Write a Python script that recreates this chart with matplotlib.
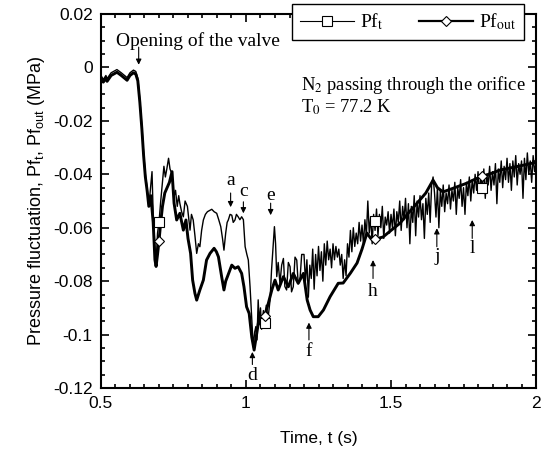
import numpy as np
import matplotlib
matplotlib.use("Agg")
import matplotlib.pyplot as plt
from matplotlib.lines import Line2D
from matplotlib.font_manager import FontProperties
from matplotlib.ticker import MultipleLocator, FuncFormatter

plt.rcParams['font.family'] = ['Liberation Sans', 'DejaVu Sans']
plt.rcParams['mathtext.fontset'] = 'custom'
plt.rcParams['mathtext.rm'] = 'Liberation Sans'
plt.rcParams['mathtext.it'] = 'Liberation Sans:italic'

# ---- Pf_t (thin, noisy) ----
t_pft_head = [0.500, 0.508, 0.517, 0.521, 0.535, 0.555, 0.570, 0.590, 0.600, 0.612,
              0.620, 0.627, 0.634, 0.641, 0.647, 0.653, 0.659, 0.665, 0.671, 0.676,
              0.680, 0.686, 0.690, 0.695, 0.700, 0.706, 0.712, 0.717, 0.722, 0.727,
              0.733, 0.738, 0.744, 0.752, 0.757, 0.763, 0.768, 0.772, 0.778, 0.784,
              0.790, 0.798, 0.803, 0.807, 0.812, 0.818, 0.824, 0.830, 0.836, 0.841,
              0.847, 0.853, 0.860, 0.867, 0.875, 0.882, 0.890, 0.899, 0.906, 0.913,
              0.919, 0.924, 0.930, 0.935, 0.939, 0.945, 0.951, 0.956, 0.962, 0.967,
              0.973, 0.979, 0.985, 0.991, 0.997, 1.003, 1.008, 1.014, 1.020,
              1.025, 1.030, 1.034, 1.038, 1.042, 1.046, 1.050, 1.054, 1.060, 1.065,
              1.070, 1.076, 1.083, 1.088, 1.093, 1.098, 1.102, 1.106, 1.111, 1.117,
              1.123, 1.129, 1.134, 1.140, 1.146, 1.152, 1.157, 1.163, 1.169, 1.175,
              1.180, 1.186, 1.192]
pft_head = [-0.003, -0.0045, -0.003, -0.0042, -0.002, -0.0008, -0.002, -0.0038, -0.002, -0.001,
            -0.0015, -0.004, -0.012, -0.022, -0.032, -0.040, -0.045, -0.052, -0.045, -0.039,
            -0.055, -0.067, -0.073, -0.062, -0.058, -0.050, -0.043, -0.037, -0.041, -0.038,
            -0.034, -0.038, -0.0397, -0.0484, -0.046, -0.052, -0.048, -0.0509, -0.054, -0.0559,
            -0.050, -0.052, -0.057, -0.0609, -0.055, -0.0571, -0.063, -0.0696, -0.066, -0.0671,
            -0.061, -0.0571, -0.055, -0.054, -0.0535, -0.0531, -0.054, -0.0546, -0.057, -0.0596,
            -0.064, -0.0684, -0.062, -0.058, -0.0571, -0.055, -0.0553, -0.058, -0.0571, -0.055,
            -0.0559, -0.057, -0.0559, -0.057, -0.0671, -0.070, -0.0721, -0.0821, -0.0946,
            -0.1046, -0.099, -0.097, -0.102, -0.087, -0.096, -0.090, -0.098, -0.091, -0.096,
            -0.089, -0.094, -0.087, -0.076, -0.068, -0.0596, -0.066, -0.0783, -0.073, -0.0808,
            -0.074, -0.0715, -0.082, -0.0833, -0.073, -0.0746, -0.084, -0.0821, -0.071, -0.0721,
            -0.081, -0.0796, -0.070]

# sampled every 5 ms from 1.20 s to 2.00 s
pft_tail = [-0.070, -0.080, -0.072, -0.086, -0.074, -0.079, -0.068, -0.083, -0.070, -0.078,
            -0.067, -0.076, -0.069, -0.080, -0.066, -0.074, -0.065, -0.072, -0.068, -0.075,
            -0.066, -0.072, -0.067, -0.071, -0.068, -0.074, -0.070, -0.079, -0.072, -0.078,
            -0.066, -0.071, -0.061, -0.069, -0.060, -0.067, -0.062, -0.066, -0.058, -0.065,
            -0.059, -0.066, -0.057, -0.063, -0.050, -0.062, -0.056, -0.066, -0.055, -0.061,
            -0.053, -0.063, -0.055, -0.060, -0.052, -0.064, -0.056, -0.059, -0.054, -0.062,
            -0.055, -0.060, -0.053, -0.063, -0.054, -0.058, -0.050, -0.061, -0.052, -0.057,
            -0.049, -0.060, -0.051, -0.066, -0.052, -0.058, -0.048, -0.063, -0.050, -0.056,
            -0.048, -0.057, -0.051, -0.064, -0.049, -0.055, -0.047, -0.058, -0.044, -0.041,
            -0.047, -0.056, -0.045, -0.060, -0.046, -0.052, -0.044, -0.054, -0.047, -0.051,
            -0.044, -0.053, -0.046, -0.050, -0.043, -0.055, -0.045, -0.049, -0.042, -0.052,
            -0.045, -0.055, -0.043, -0.048, -0.041, -0.050, -0.042, -0.047, -0.040, -0.046,
            -0.039, -0.047, -0.041, -0.045, -0.038, -0.049, -0.040, -0.044, -0.037, -0.046,
            -0.039, -0.044, -0.036, -0.051, -0.038, -0.043, -0.035, -0.045, -0.037, -0.042,
            -0.034, -0.043, -0.036, -0.046, -0.035, -0.041, -0.033, -0.044, -0.036, -0.040,
            -0.035, -0.049, -0.034, -0.042, -0.032, -0.040, -0.035, -0.043, -0.033, -0.039,
            -0.036]
t_pft_tail = 1.20 + 0.005 * np.arange(len(pft_tail))

# ---- Pf_out (thick, smoother) ----
t_pfout = [0.500, 0.508, 0.517, 0.521, 0.535, 0.555, 0.570, 0.590, 0.600, 0.612,
           0.620, 0.627, 0.634, 0.641, 0.647, 0.653, 0.659, 0.665, 0.672, 0.680,
           0.686, 0.690, 0.695, 0.700, 0.706, 0.712, 0.720, 0.728, 0.736, 0.745,
           0.752, 0.761, 0.772, 0.784, 0.793, 0.800, 0.805, 0.809, 0.816, 0.824,
           0.830, 0.836, 0.841, 0.853, 0.864, 0.876, 0.890, 0.898, 0.905, 0.916,
           0.924, 0.930, 0.936, 0.944, 0.951, 0.962, 0.973, 0.985, 0.993, 1.002,
           1.011, 1.020, 1.028, 1.037, 1.046, 1.054, 1.063, 1.077, 1.089, 1.100,
           1.111, 1.129, 1.146, 1.163, 1.180, 1.198, 1.211, 1.221, 1.232, 1.249,
           1.267, 1.290, 1.318, 1.335, 1.360, 1.383, 1.400, 1.417, 1.430, 1.445,
           1.472, 1.500, 1.531, 1.560, 1.590, 1.620, 1.645, 1.660, 1.679, 1.720,
           1.762, 1.790, 1.817, 1.850, 1.876, 1.930, 1.960, 2.000]
pfout = [-0.004, -0.0055, -0.004, -0.0052, -0.003, -0.0018, -0.003, -0.0048, -0.003, -0.002,
         -0.0025, -0.005, -0.013, -0.023, -0.033, -0.041, -0.046, -0.052, -0.048, -0.058,
         -0.072, -0.0745, -0.070, -0.065, -0.058, -0.052, -0.047, -0.045, -0.043, -0.039,
         -0.0508, -0.0571, -0.0546, -0.0609, -0.0571, -0.064, -0.0671, -0.0696, -0.0796, -0.0846,
         -0.0871, -0.085, -0.0833, -0.0796, -0.0721, -0.0696, -0.0677, -0.069, -0.0709, -0.0783,
         -0.0833, -0.080, -0.0783, -0.076, -0.074, -0.0752, -0.0746, -0.0771, -0.0821, -0.0896,
         -0.0921, -0.101, -0.1058, -0.0996, -0.0933, -0.0971, -0.0933, -0.0883, -0.0833, -0.0796,
         -0.0833, -0.0783, -0.0821, -0.0771, -0.0808, -0.0771, -0.0871, -0.0908, -0.0933, -0.0933,
         -0.0908, -0.0858, -0.0808, -0.0807, -0.0770, -0.0732, -0.0680, -0.0620, -0.0640, -0.0642,
         -0.0635, -0.0610, -0.0583, -0.0545, -0.0508, -0.0470, -0.0422, -0.0450, -0.0466, -0.0450,
         -0.0433, -0.0418, -0.0407, -0.0395, -0.0384, -0.0372, -0.0365, -0.0355]

# marker positions
t_marks = [0.700, 1.066, 1.445, 1.815]
pft_marks = [-0.058, -0.0955, -0.0575, -0.0451]
pfout_marks = [-0.065, -0.093, -0.0642, -0.0405]

# letter labels: (text, x, text_y, arrow_tail_y, arrow_tip_y)
labels_down = [('a', 0.947, -0.0422, -0.047, -0.0523),
               ('c', 0.991, -0.0465, -0.0503, -0.0546),
               ('e', 1.085, -0.0478, -0.0508, -0.0553)]
labels_up = [('d', 1.022, -0.1152, -0.1112, -0.1065),
             ('f', 1.217, -0.1065, -0.102, -0.0955),
             ('h', 1.438, -0.084, -0.079, -0.0721),
             ('j', 1.658, -0.0709, -0.0671, -0.0602),
             ('l', 1.780, -0.0677, -0.064, -0.0571)]

t_pft = np.concatenate([t_pft_head, t_pft_tail])
pft = np.concatenate([pft_head, pft_tail])

fig = plt.figure(figsize=(5.42, 4.58), dpi=100)
ax = fig.add_axes([0.1863, 0.1528, 0.8027, 0.8166])

ax.plot(t_pft, pft, color='k', lw=1.0)
ax.plot(t_pfout, pfout, color='k', lw=2.1)
ax.plot(t_marks, pft_marks, ls='none', marker='s', ms=7, mfc='white', mec='k', mew=0.8)
ax.plot(t_marks, pfout_marks, ls='none', marker='D', ms=5, mfc='white', mec='k', mew=0.8)

ax.set_xlim(0.5, 2.0)
ax.set_ylim(-0.12, 0.02)
ax.xaxis.set_major_locator(MultipleLocator(0.5))
ax.xaxis.set_minor_locator(MultipleLocator(0.05))
ax.yaxis.set_major_locator(MultipleLocator(0.02))
ax.yaxis.set_minor_locator(MultipleLocator(0.005))
ax.xaxis.set_major_formatter(FuncFormatter(lambda v, p: f"{round(v, 3):g}"))
ax.yaxis.set_major_formatter(FuncFormatter(lambda v, p: f"{round(v, 3) + 0.0:g}"))
ax.tick_params(which='both', direction='in', top=True, right=True, labelsize=12.5, width=1.2)
ax.tick_params(which='major', length=6, pad=6)
ax.tick_params(which='minor', length=3)
for s in ax.spines.values():
    s.set_linewidth(1.5)

ax.set_xlabel("Time, t (s)", fontsize=12.5, labelpad=14)
ax.set_ylabel(r"Pressure fluctuation, Pf$_\mathrm{t}$, Pf$_\mathrm{out}$ (MPa)", fontsize=13, labelpad=4)

serif = dict(family=['Liberation Serif', 'DejaVu Serif'], fontsize=14, math_fontfamily='stix')
arrow = dict(arrowstyle='-|>', color='k', lw=0.8, mutation_scale=8, shrinkA=0, shrinkB=0)

ax.text(0.553, 0.0097, "Opening of the valve", ha='left', va='center', **serif)
ax.annotate('', xy=(0.630, 0.001), xytext=(0.630, 0.0076), arrowprops=arrow)
serif_small = dict(serif, fontsize=13.3)
ax.text(1.19, -0.0065, r"N$_\mathrm{2}$ passing through the orifice", ha='left', va='center', **serif_small)
ax.text(1.19, -0.0148, r"T$_\mathrm{0}$ = 77.2 K", ha='left', va='center', **serif_small)

for txt, x, ty, tail, tip in labels_down + labels_up:
    ax.text(x, ty, txt, ha='center', va='center', **serif)
    ax.annotate('', xy=(x, tip), xytext=(x, tail), arrowprops=arrow)

fp = FontProperties(family=['Liberation Serif', 'DejaVu Serif'], size=14, math_fontfamily='stix')
handles = [Line2D([], [], color='k', lw=0.8, marker='s', ms=7, mfc='white', mec='k', mew=0.8),
           Line2D([], [], color='k', lw=1.6, marker='D', ms=5, mfc='white', mec='k', mew=0.8)]
leg = ax.legend(handles, [r"Pf$_\mathrm{t}$", r"Pf$_\mathrm{out}$"], prop=fp, ncol=2,
                loc='center', bbox_to_anchor=(0.439, 0.93, 0.533, 0.097), mode='expand',
                handlelength=2.8, handletextpad=0.3, columnspacing=1.0, borderaxespad=0,
                fancybox=False, framealpha=1, edgecolor='k')
leg.get_frame().set_linewidth(1.0)

fig.savefig("out.png", dpi=100)
